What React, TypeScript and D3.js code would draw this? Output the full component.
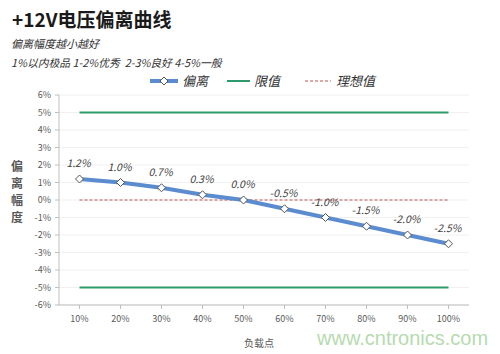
import React from "react";
import * as d3 from "d3";

const categories = ["10%", "20%", "30%", "40%", "50%", "60%", "70%", "80%", "90%", "100%"];
const deviation = [1.2, 1.0, 0.7, 0.3, 0.0, -0.5, -1.0, -1.5, -2.0, -2.5];
const upperLimit = [5, 5, 5, 5, 5, 5, 5, 5, 5, 5];
const lowerLimit = [-5, -5, -5, -5, -5, -5, -5, -5, -5, -5];
const ideal = [0, 0, 0, 0, 0, 0, 0, 0, 0, 0];
const yTicks = [6, 5, 4, 3, 2, 1, 0, -1, -2, -3, -4, -5, -6];

const W = 500, H = 354;
const left = 59, right = 469, top = 95, bottom = 305;

export default function App() {
  const x = d3.scaleBand<string>().domain(categories).range([left, right]);
  const cx = (c: string) => (x(c) as number) + x.bandwidth() / 2;
  const y = d3.scaleLinear().domain([-6, 6]).range([bottom, top]);
  const line = d3.line<number>().x((_, i) => cx(categories[i])).y((d) => y(d));
  const font = "'Microsoft YaHei', 'Noto Sans CJK SC', sans-serif";
  const fmt = (v: number) => v.toFixed(1) + "%";
  const diamond = (px: number, py: number, r = 4) => `M${px},${py - r}L${px + r},${py}L${px},${py + r}L${px - r},${py}Z`;

  return (
    <svg width={W} height={H} style={{ position: "absolute", left: 0, top: 0, background: "#fff" }} fontFamily={font}>
      <text x={12} y={27} fontSize={19} fontWeight="bold" fill="#1a1a1a">+12V电压偏离曲线</text>
      <text x={11} y={48} fontSize={11} fontStyle="italic" fill="#333">偏离幅度越小越好</text>
      <text x={11} y={67} fontSize={10.8} fontStyle="italic" fill="#333" style={{ whiteSpace: "pre" }}>1%以内极品 1-2%优秀  2-3%良好 4-5%一般</text>

      {/* legend */}
      <g>
        <line x1={150} x2={178} y1={81} y2={81} stroke="#5b8ccf" strokeWidth={4} />
        <path d={diamond(164, 81)} fill="#fff" stroke="#555" strokeWidth={1} />
        <text x={182} y={86} fontSize={13} fontStyle="italic" fill="#333">偏离</text>
        <line x1={227} x2={250} y1={81} y2={81} stroke="#2e9b6c" strokeWidth={2} />
        <text x={254} y={86} fontSize={13} fontStyle="italic" fill="#333">限值</text>
        <line x1={305} x2={331} y1={81} y2={81} stroke="#c0504d" strokeWidth={1} strokeDasharray="3,2" />
        <text x={336} y={86} fontSize={13} fontStyle="italic" fill="#333">理想值</text>
      </g>

      {/* gridlines */}
      {yTicks.map((t) => (
        <line key={"g" + t} x1={left} x2={right} y1={y(t)} y2={y(t)} stroke="#f0f0f0" strokeWidth={1} />
      ))}

      {/* y axis */}
      <line x1={left} x2={left} y1={top} y2={bottom} stroke="#bfbfbf" />
      {yTicks.map((t) => (
        <g key={"yt" + t}>
          <line x1={left - 4} x2={left} y1={y(t)} y2={y(t)} stroke="#bfbfbf" />
          <text x={left - 8} y={y(t) + 3} fontSize={9} textAnchor="end" fill="#595959">{t + "%"}</text>
        </g>
      ))}

      {/* x axis */}
      <line x1={left} x2={right} y1={bottom} y2={bottom} stroke="#bfbfbf" />
      {categories.map((c) => (
        <g key={"xt" + c}>
          <line x1={cx(c)} x2={cx(c)} y1={bottom} y2={bottom + 4} stroke="#bfbfbf" />
          <text x={cx(c)} y={bottom + 17} fontSize={9} textAnchor="middle" fill="#595959">{c}</text>
        </g>
      ))}

      {/* axis titles */}
      {"偏离幅度".split("").map((ch, i) => (
        <text key={"yl" + i} x={17} y={171 + i * 17} fontSize={12} fontWeight="bold" textAnchor="middle" fill="#595959">{ch}</text>
      ))}
      <text x={259} y={347} fontSize={10} textAnchor="middle" fill="#595959">负载点</text>

      {/* limit lines */}
      <path d={line(upperLimit) as string} fill="none" stroke="#2e9b6c" strokeWidth={2} />
      <path d={line(lowerLimit) as string} fill="none" stroke="#2e9b6c" strokeWidth={2} />
      <path d={line(ideal) as string} fill="none" stroke="#c0504d" strokeWidth={1} strokeDasharray="3,2" />

      {/* series */}
      <path d={line(deviation) as string} fill="none" stroke="#5b8ccf" strokeWidth={4} strokeLinejoin="round" />
      {deviation.map((v, i) => (
        <g key={"p" + i}>
          <path d={diamond(cx(categories[i]), y(v))} fill="#fff" stroke="#555" strokeWidth={1} />
          <text x={cx(categories[i]) - 1} y={y(v) - 12} fontSize={10.5} fontStyle="italic" textAnchor="middle" fill="#404040">{fmt(v)}</text>
        </g>
      ))}

      {/* watermark */}
      <text x={317} y={345} fontSize={20} fill="#b5dbb0" fontFamily="Arial, 'Liberation Sans', sans-serif">www.cntronics.com</text>
    </svg>
  );
}
